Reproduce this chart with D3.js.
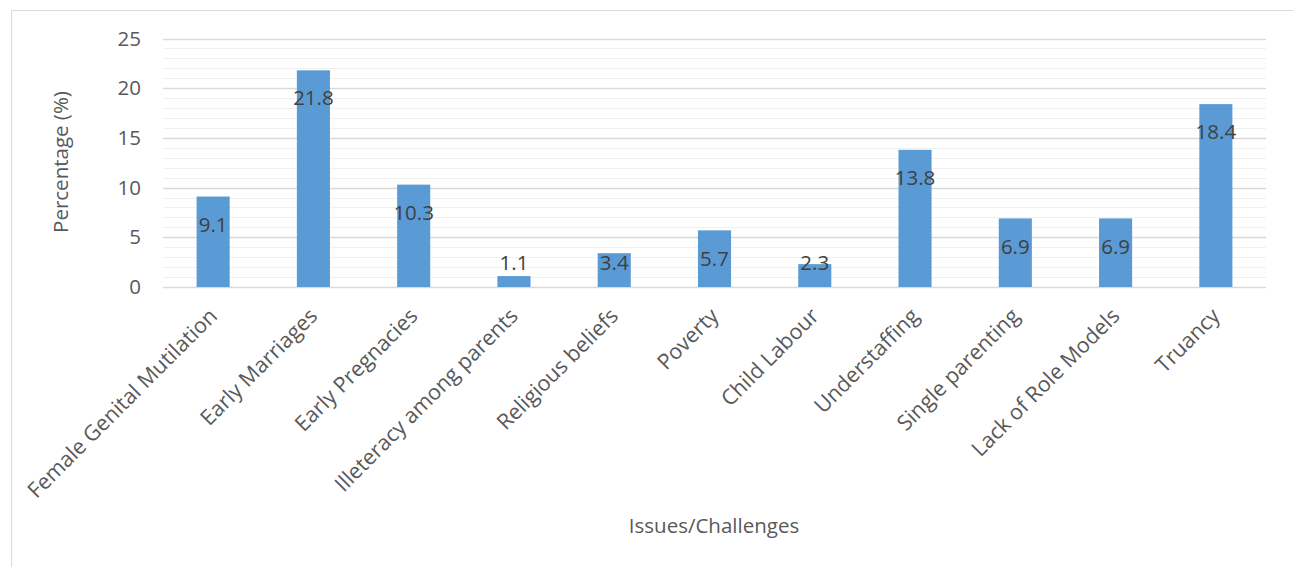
<!DOCTYPE html>
<html>
<head>
<meta charset="utf-8">
<script src="https://cdn.jsdelivr.net/npm/d3@7"></script>
<style>
  body { margin: 0; background: #fff; }
  svg { font-family: "Open Sans", sans-serif; }
</style>
</head>
<body>
<svg id="chart" width="1293" height="567"></svg>
<script>
const categories = [
    "Female Genital Mutilation", "Early Marriages", "Early Pregnacies",
    "Illeteracy among parents", "Religious beliefs", "Poverty", "Child Labour",
    "Understaffing", "Single parenting", "Lack of Role Models", "Truancy"
];
const values = [9.1, 21.8, 10.3, 1.1, 3.4, 5.7, 2.3, 13.8, 6.9, 6.9, 18.4];
const yTicks = [0, 5, 10, 15, 20, 25];

const svg = d3.select("#chart");
const margin = { left: 163, right: 27, top: 38.5, bottom: 280 };
const width = 1293, height = 567;
const fs = 20.5;

// chart frame
svg.append("rect")
    .attr("x", 11.5).attr("y", 10.5)
    .attr("width", 1300).attr("height", 600)
    .attr("fill", "none")
    .attr("stroke", "#d9d9d9");

const x = d3.scaleBand()
    .domain(categories)
    .range([margin.left, width - margin.right])
    .paddingInner(0.67)
    .paddingOuter(0.335);

const y = d3.scaleLinear()
    .domain([0, 25])
    .range([287, margin.top]);

// minor grid
svg.append("g")
    .selectAll("line")
    .data(d3.range(0, 26).filter(d => d % 5 !== 0))
    .join("line")
    .attr("x1", margin.left).attr("x2", width - margin.right)
    .attr("y1", d => Math.round(y(d)) + 0.5).attr("y2", d => Math.round(y(d)) + 0.5)
    .attr("stroke", "#f0f0f0")
    .attr("stroke-width", 1.2);

// major grid
svg.append("g")
    .selectAll("line")
    .data(yTicks)
    .join("line")
    .attr("x1", margin.left).attr("x2", width - margin.right)
    .attr("y1", d => Math.round(y(d)) + 0.5).attr("y2", d => Math.round(y(d)) + 0.5)
    .attr("stroke", "#d9d9d9")
    .attr("stroke-width", 1.3);

// y axis labels
const yAxis = d3.axisLeft(y).tickValues(yTicks).tickSize(0).tickPadding(0);
svg.append("g")
    .attr("transform", "translate(141,0)")
    .call(yAxis)
    .call(g => g.select(".domain").remove())
    .selectAll("text")
    .attr("font-size", fs)
    .attr("font-family", "Open Sans, sans-serif")
    .attr("fill", "#595959");

// bars
svg.append("g")
    .selectAll("rect")
    .data(values)
    .join("rect")
    .attr("x", (d, i) => x(categories[i]))
    .attr("width", x.bandwidth())
    .attr("y", d => y(d))
    .attr("height", d => y(0) - y(d))
    .attr("fill", "#5b9bd5");

// data labels
svg.append("g")
    .selectAll("text")
    .data(values)
    .join("text")
    .attr("x", (d, i) => x(categories[i]) + x.bandwidth() / 2)
    .attr("y", d => Math.min(y(d) + 28, 263))
    .attr("dy", "0.35em")
    .attr("text-anchor", "middle")
    .attr("font-size", fs)
    .attr("fill", "#404040")
    .text(d => d.toFixed(1));

// x axis labels
const xAxis = d3.axisBottom(x).tickSize(0).tickPadding(0);
svg.append("g")
    .attr("transform", "translate(0,287)")
    .call(xAxis)
    .call(g => g.select(".domain").remove())
    .selectAll("text")
    .attr("font-size", 21.5)
    .attr("font-family", "Open Sans, sans-serif")
    .attr("fill", "#595959")
    .attr("text-anchor", "end")
    .attr("dy", "0.35em")
    .attr("transform", "translate(0,25) rotate(-45)");

// axis titles
svg.append("text")
    .attr("transform", "translate(61,162) rotate(-90)")
    .attr("text-anchor", "middle")
    .attr("dy", "0.35em")
    .attr("font-size", fs)
    .attr("fill", "#595959")
    .text("Percentage (%)");

svg.append("text")
    .attr("x", 714).attr("y", 526)
    .attr("text-anchor", "middle")
    .attr("dy", "0.35em")
    .attr("font-size", fs)
    .attr("fill", "#595959")
    .text("Issues/Challenges");
</script>
</body>
</html>
